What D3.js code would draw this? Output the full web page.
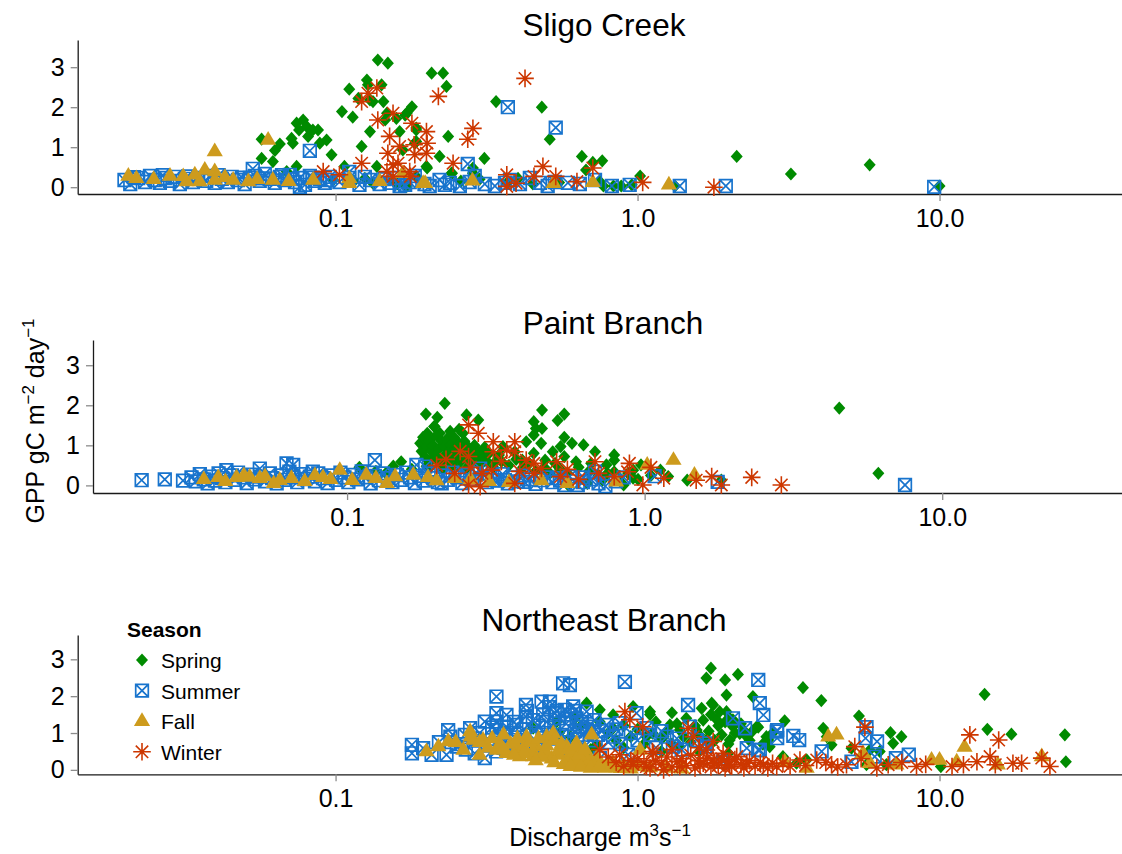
<!DOCTYPE html>
<html>
<head>
<meta charset="utf-8">
<script src="https://cdn.jsdelivr.net/npm/d3@7"></script>
<style>
  body { margin: 0; background: #fff; }
  svg { display: block; font-family: "Liberation Sans", Arial, sans-serif; }
</style>
</head>
<body>
<svg id="chart" width="1122" height="854"></svg>
<script>
// ---- data: [discharge (m3/s), GPP (gC m-2 day-1)] ----
const seasons = ["Spring", "Summer", "Fall", "Winter"];
const seasonColors = ["#008B00", "#1874CD", "#CD9B1D", "#CD3700"];
const sites = ["Sligo Creek", "Paint Branch", "Northeast Branch"];
const xTickValues = [0.1, 1, 10];
const xTickLabels = ["0.1", "1.0", "10.0"];
const yTickValues = [0, 1, 2, 3];

const sligoSpring = [
  [0.0569,1.20],[0.0569,0.72],[0.0620,0.64],[0.0630,0.92],[0.0654,1.08],[0.0715,1.22],[0.0722,1.10],
  [0.0743,1.60],[0.0757,1.43],[0.0781,1.68],[0.0802,1.52],[0.0811,1.27],[0.0841,1.43],[0.0875,1.43],
  [0.0887,1.10],[0.0934,1.18],[0.0970,0.81],[0.0743,0.52],[0.105,1.89],[0.111,2.45],[0.114,1.75],
  [0.119,2.22],[0.122,1.02],[0.127,2.68],[0.128,2.56],[0.130,2.18],[0.133,2.14],[0.138,3.18],
  [0.142,2.56],[0.144,2.14],[0.149,3.10],[0.148,1.85],[0.146,1.68],[0.130,1.39],[0.159,1.72],
  [0.163,1.39],[0.172,1.85],[0.179,2.01],[0.185,1.43],[0.183,1.10],[0.167,0.93],[0.208,2.85],
  [0.227,2.85],[0.233,2.52],[0.236,1.27],[0.221,0.77],[0.200,0.52],[0.242,0.35],[0.137,0.52],
  [0.107,0.52],[0.0982,0.18],[0.133,0.10],[0.155,0.18],[0.172,0.02],[0.185,0.27],[0.0689,0.39],
  [0.170,1.80],[0.185,1.48],[0.185,1.14],[0.340,2.14],[0.482,2.00],[0.512,1.20],[0.311,0.72],
  [0.201,0.48],[0.243,0.35],[0.285,0.48],[0.285,0.35],[0.369,0.10],[0.402,0.22],[0.654,0.77],
  [0.711,0.62],[0.764,0.66],[0.675,0.43],[0.750,0.14],[0.771,0.03],[0.832,0.03],[0.883,0.03],
  [0.957,0.06],[1.02,0.28],[1.33,0.03],[2.13,0.77],[3.22,0.33],[5.87,0.56],[10.0,0.03],
  [0.115,0.15],[0.125,0.22],[0.160,0.08],[0.195,0.12],[0.260,0.15],[0.300,0.20],[0.450,0.08],[0.550,0.12]
];
const sligoSummer = [
  [0.0200,0.18],[0.0209,0.08],[0.0222,0.23],[0.0234,0.13],[0.0243,0.28],[0.0252,0.18],[0.0262,0.11],
  [0.0272,0.23],[0.0283,0.16],[0.0294,0.26],[0.0305,0.08],[0.0317,0.21],[0.0337,0.13],[0.0351,0.23],
  [0.0373,0.16],[0.0383,0.28],[0.0398,0.11],[0.0420,0.21],[0.0440,0.13],[0.0453,0.26],[0.0475,0.18],
  [0.0500,0.08],[0.0520,0.23],[0.0540,0.28],[0.0561,0.16],[0.0583,0.33],[0.0605,0.21],[0.0629,0.11],
  [0.0654,0.26],[0.0680,0.18],[0.0706,0.31],[0.0734,0.13],[0.0762,0.23],[0.0792,0.06],[0.0822,0.28],
  [0.0854,0.16],[0.0887,0.21],[0.0921,0.11],[0.0957,0.26],[0.0532,0.46],[0.0762,0.01],[0.0822,0.91],
  [0.103,0.13],[0.111,0.23],[0.120,0.06],[0.130,0.18],[0.140,0.08],[0.151,0.11],[0.157,0.23],
  [0.163,0.03],[0.176,0.13],[0.183,0.28],[0.197,0.08],[0.205,0.03],[0.221,0.18],[0.230,0.06],
  [0.239,0.11],[0.258,0.03],[0.278,0.13],[0.289,0.28],[0.312,0.08],[0.337,0.03],[0.364,0.11],
  [0.378,0.18],[0.408,0.08],[0.440,0.23],[0.475,0.11],[0.504,0.03],[0.532,0.13],[0.588,0.11],
  [0.644,0.08],[0.723,0.18],[0.822,0.03],[0.942,0.06],[1.38,0.03],[1.96,0.03],[9.6,0.01],
  [0.372,2.00],[0.536,1.49],[0.274,0.58],[0.111,0.38],
  [0.0215,0.25],[0.0268,0.30],[0.0325,0.27],[0.0410,0.30],[0.0490,0.24],[0.0575,0.22],[0.0665,0.30],
  [0.0720,0.20],[0.0840,0.24],[0.0940,0.18],[0.125,0.26],[0.145,0.20],[0.170,0.06]
];
const sligoFall = [
  [0.0206,0.28],[0.0219,0.22],[0.0283,0.28],[0.0313,0.27],[0.0342,0.31],[0.0369,0.43],[0.0398,0.39],
  [0.0398,0.89],[0.0398,0.18],[0.0458,0.18],[0.0514,0.14],[0.0598,1.18],[0.0355,0.14],[0.0321,0.14],
  [0.111,0.22],[0.111,0.10],[0.167,0.35],[0.195,0.10],[0.0843,0.18],[0.0620,0.18],[0.284,0.16],
  [0.711,0.12],[0.527,0.10],[1.27,0.06],[0.198,0.10],[0.025,0.20],[0.043,0.25],[0.055,0.20],
  [0.070,0.15],[0.140,0.15]
];
const sligoWinter = [
  [0.0910,0.39],[0.103,0.31],[0.122,0.60],[0.122,2.14],[0.128,2.35],[0.137,2.48],[0.138,1.68],
  [0.151,1.27],[0.155,1.85],[0.149,0.85],[0.155,0.56],[0.148,0.39],[0.161,0.60],[0.163,1.02],
  [0.179,1.60],[0.176,0.39],[0.183,0.81],[0.200,0.85],[0.200,1.39],[0.219,2.27],[0.245,0.60],
  [0.155,0.27],[0.182,1.06],[0.201,1.10],[0.274,1.20],[0.285,1.47],[0.177,0.27],[0.369,0.31],
  [0.369,0.02],[0.396,0.10],[0.454,0.27],[0.486,0.52],[0.536,0.27],[0.630,0.14],[0.711,0.48],
  [1.04,0.12],[1.79,0.00],[0.424,2.72]
];

const paintSpring = [
  [0.213,2.05],[0.184,1.78],[0.201,1.70],[0.252,1.76],[0.276,1.63],[0.196,1.47],[0.238,1.40],
  [0.452,1.88],[0.537,1.78],[0.510,1.62],[0.424,1.59],[0.431,1.42],[0.452,1.42],[0.424,1.26],
  [0.537,1.20],[0.623,1.01],[0.681,0.84],[0.790,0.76],[0.790,0.63],[0.570,1.05],[0.522,0.97],
  [0.491,0.84],[0.400,1.09],[0.449,1.05],[0.366,0.84],[0.424,0.80],[0.334,0.97],[0.324,0.76],
  [0.315,0.59],[0.388,0.63],[0.463,0.63],[0.537,0.72],[0.588,0.59],[0.661,0.55],[0.744,0.51],
  [0.790,0.34],[0.915,0.38],[0.972,0.51],[1.13,0.38],[1.20,0.22],[1.39,0.13],[1.81,0.13],
  [4.51,1.93],[6.10,0.30],[0.850,0.01],[0.915,0.18],[0.722,0.13],[0.642,0.05],[0.553,0.01],
  [0.110,0.45],[0.143,0.48],[0.152,0.59],[0.185,0.48],[0.190,1.13],[0.205,1.30],[0.197,1.47],
  [0.176,1.05],[0.178,0.85],[0.180,1.20],[0.183,0.70],[0.185,0.95],[0.188,1.10],[0.190,0.60],
  [0.192,0.85],[0.195,1.00],[0.198,0.75],[0.200,1.25],[0.203,0.90],[0.205,0.55],[0.208,1.10],
  [0.210,0.70],[0.213,0.95],[0.216,1.15],[0.218,0.80],[0.220,0.60],[0.223,1.00],[0.226,0.85],
  [0.229,1.20],[0.232,0.70],[0.235,0.95],[0.238,1.05],[0.241,0.60],[0.244,0.85],[0.248,1.10],
  [0.252,0.75],[0.256,0.95],[0.260,0.55],[0.264,0.80],[0.268,1.00],[0.272,0.65],[0.276,0.85],
  [0.280,0.50],[0.285,0.75],[0.290,0.95],[0.295,0.60],[0.300,0.80],[0.190,0.45],[0.210,0.40],
  [0.230,0.45],[0.250,0.40],[0.186,1.30],[0.222,1.35],[0.245,1.30],[0.125,0.35],[0.135,0.30],
  [0.165,0.40],[0.310,0.45],[0.330,0.60],[0.350,0.50],[0.370,0.65],[0.390,0.45],[0.410,0.55],
  [0.430,0.35],[0.460,0.45],[0.480,0.30],[0.500,0.55],[0.520,0.40],[0.550,0.30],[0.600,0.45],
  [0.650,0.35],[0.700,0.25],[0.750,0.30],[0.820,0.20],[0.880,0.30],[0.950,0.15],[1.05,0.25]
];
const paintSummer = [
  [0.0204,0.13],[0.0244,0.15],[0.0281,0.12],[0.0626,0.55],[0.0659,0.51],[0.0509,0.42],[0.0393,0.38],
  [0.124,0.63],[0.171,0.51],[0.0767,0.34],[0.183,0.47],[0.208,0.05],[0.280,0.42],[0.311,0.13],
  [0.339,0.13],[0.394,0.09],[0.449,0.13],[0.506,0.18],[0.537,0.01],[0.596,0.01],[0.623,0.20],
  [0.681,0.34],[0.738,-0.02],[1.08,0.23],[1.76,0.09],[7.50,0.01],
  [0.030,0.20],[0.031,0.10],[0.032,0.28],[0.033,0.15],[0.034,0.05],[0.035,0.22],[0.036,0.12],
  [0.037,0.30],[0.038,0.18],[0.039,0.08],[0.041,0.25],[0.042,0.14],[0.043,0.32],[0.045,0.20],
  [0.046,0.06],[0.048,0.27],[0.049,0.15],[0.051,0.22],[0.053,0.10],[0.055,0.30],[0.056,0.18],
  [0.058,0.05],[0.060,0.25],[0.062,0.14],[0.064,0.34],[0.066,0.20],[0.068,0.08],[0.070,0.28],
  [0.072,0.16],[0.075,0.22],[0.078,0.10],[0.080,0.30],[0.083,0.18],[0.086,0.06],[0.089,0.25],
  [0.092,0.14],[0.095,0.32],[0.098,0.20],[0.101,0.08],[0.105,0.26],[0.108,0.15],[0.112,0.35],
  [0.116,0.20],[0.120,0.05],[0.124,0.24],[0.128,0.13],[0.132,0.30],[0.137,0.18],[0.142,0.08],
  [0.147,0.26],[0.152,0.14],[0.158,0.32],[0.163,0.20],[0.169,0.06],[0.175,0.24],[0.181,0.12],
  [0.188,0.30],[0.195,0.18],[0.202,0.08],[0.210,0.25],[0.218,0.14],[0.226,0.32],[0.235,0.20],
  [0.244,0.06],[0.253,0.26],[0.263,0.14],[0.273,0.30],[0.284,0.18],[0.295,0.08],[0.307,0.24],
  [0.320,0.12],[0.333,0.28],[0.347,0.05],[0.360,0.20],[0.375,0.10],[0.390,0.25],[0.410,0.15],
  [0.430,0.04],[0.470,0.20],[0.490,0.08],[0.520,0.12],[0.560,0.22],[0.620,0.08],[0.660,0.15],
  [0.700,0.05],[0.800,0.10],[0.850,0.20]
];
const paintFall = [
  [0.0369,0.20],[0.0425,0.20],[0.0471,0.21],[0.0509,0.18],[0.0594,0.13],[0.0830,0.20],[0.0945,0.38],
  [0.104,0.13],[0.116,0.26],[0.167,0.26],[0.187,0.20],[0.0567,0.05],[0.136,0.05],[1.02,0.51],
  [1.25,0.63],[1.47,0.26],[0.802,0.09],[0.033,0.15],[0.039,0.10],[0.045,0.25],[0.053,0.22],
  [0.065,0.18],[0.072,0.10],[0.078,0.25],[0.088,0.15],[0.125,0.18],[0.145,0.22],[0.200,0.12],
  [0.230,0.18],[0.260,0.15],[0.300,0.10],[0.350,0.08],[0.450,0.12],[0.550,0.05]
];
const paintWinter = [
  [0.256,1.51],[0.276,1.30],[0.310,1.09],[0.366,1.09],[0.344,0.88],[0.310,0.84],[0.366,0.84],
  [0.400,0.63],[0.424,0.55],[0.506,0.59],[0.681,0.59],[0.889,0.55],[0.876,0.34],[1.16,0.18],
  [0.986,0.01],[1.49,0.13],[1.68,0.22],[1.81,0.01],[2.29,0.20],[2.88,0.01],[0.256,0.72],
  [0.284,0.30],[0.256,0.01],[0.306,0.38],[0.280,-0.03],[0.366,0.05],[0.424,0.30],[0.522,0.22],
  [0.790,0.22],[0.200,0.50],[0.215,0.65],[0.230,0.30],[0.240,0.85],[0.260,0.45],[0.330,0.60],
  [0.380,0.35],[0.450,0.42],[0.550,0.40],[0.600,0.15],[0.700,0.30],[1.05,0.45]
];

const neSpring = [
  [1.75,2.76],[1.69,2.49],[1.95,2.44],[2.15,2.59],[1.97,2.03],[2.41,1.99],[1.63,1.67],[1.76,1.81],
  [1.97,1.58],[1.83,1.36],[2.07,1.36],[2.48,1.17],[2.18,0.99],[2.71,0.81],[1.10,1.58],[0.967,1.72],
  [0.830,1.49],[0.750,1.63],[0.678,1.81],[1.28,1.22],[1.38,1.08],[1.57,1.08],[1.69,0.81],[2.02,0.81],
  [2.30,0.90],[1.22,0.90],[1.07,0.90],[0.830,1.13],[0.451,1.13],[0.540,1.31],[0.732,0.68],[1.38,0.63],
  [2.74,0.63],[3.53,2.23],[4.06,1.88],[3.07,1.33],[2.51,1.16],[1.78,1.76],[1.87,1.58],[2.02,1.40],
  [2.07,1.17],[2.24,1.08],[2.67,0.90],[4.12,1.13],[4.23,0.90],[4.39,0.68],[5.41,1.46],[6.88,1.01],
  [7.02,0.72],[7.48,0.90],[5.11,0.59],[5.88,0.54],[6.34,0.50],[14.1,2.05],[14.4,1.10],[17.3,0.97],
  [26.0,0.95],[26.2,0.22],[10.1,0.09],[3.63,0.27],[5.73,0.14],[6.67,0.14],[3.03,0.36],[3.36,0.18],
  [0.80,1.00],[0.85,0.80],[0.90,1.20],[0.95,0.90],[1.00,1.10],[1.05,0.70],[1.12,1.00],[1.15,1.30],
  [1.20,0.85],[1.25,1.05],[1.30,0.70],[1.35,1.25],[1.42,0.90],[1.45,1.40],[1.50,0.75],[1.55,1.20],
  [1.60,0.95],[1.65,1.35],[1.72,1.05],[1.80,0.80],[1.85,1.20],[1.90,0.95],[1.95,1.30],[2.00,0.70],
  [2.10,1.00],[2.20,1.25],[2.35,0.80],[2.40,1.05],[2.60,0.70],[2.80,1.00],[0.70,1.00],[0.65,1.20],
  [0.60,0.90],[0.55,1.00],[0.50,0.80],[0.62,1.40],[0.75,1.30],[1.10,1.50],[1.30,1.55],[1.75,1.50],
  [0.90,0.60],[1.20,0.50],[1.60,0.50],[2.00,0.45],[0.70,0.55]
];
const neSummer = [
  [0.179,0.68],[0.179,0.45],[0.195,0.59],[0.208,0.41],[0.233,0.41],[0.236,1.08],[0.252,0.63],
  [0.268,0.95],[0.279,1.13],[0.289,0.45],[0.312,1.31],[0.312,0.32],[0.341,1.99],[0.341,1.54],
  [0.341,1.31],[0.341,1.08],[0.368,1.49],[0.368,1.17],[0.397,1.22],[0.397,0.81],[0.427,1.76],
  [0.427,1.44],[0.481,1.85],[0.513,1.85],[0.487,1.49],[0.532,1.54],[0.567,2.35],[0.597,2.30],
  [0.574,1.63],[0.612,1.72],[0.628,1.40],[0.678,1.58],[0.644,1.17],[0.713,1.17],[0.789,1.22],
  [0.830,0.90],[0.908,2.39],[0.992,1.54],[0.873,1.27],[0.628,0.45],[0.750,0.32],[0.931,0.41],
  [1.07,1.13],[1.25,0.90],[1.47,1.76],[1.49,1.17],[1.92,0.22],[2.30,0.59],[2.51,2.44],[2.54,1.81],
  [2.61,1.49],[2.54,0.54],[2.89,1.04],[1.31,0.63],[1.57,0.81],[1.69,0.63],[2.07,1.40],[2.27,1.13],
  [2.90,1.08],[2.90,0.86],[3.28,0.92],[3.43,0.81],[2.51,0.54],[1.67,0.72],[4.07,0.50],[5.73,1.16],
  [5.69,0.86],[6.21,0.77],[6.10,0.36],[5.11,0.22],[7.17,0.32],[7.91,0.41],
  [0.22,0.75],[0.24,0.90],[0.26,0.70],[0.27,0.55],[0.29,0.85],[0.30,1.00],[0.32,0.70],[0.33,1.15],
  [0.35,0.90],[0.36,0.60],[0.38,1.00],[0.39,1.30],[0.41,0.75],[0.42,1.10],[0.44,0.95],[0.45,1.35],
  [0.46,0.65],[0.47,1.20],[0.49,1.00],[0.50,1.30],[0.52,0.85],[0.53,1.15],[0.55,1.40],[0.56,0.95],
  [0.58,1.25],[0.59,0.75],[0.60,1.50],[0.62,1.05],[0.63,0.85],[0.65,1.30],[0.66,0.95],[0.68,1.10],
  [0.70,0.80],[0.72,1.35],[0.74,0.95],[0.76,1.05],[0.80,0.75],[0.85,1.10],[0.88,0.70],[0.95,1.00],
  [1.00,0.80],[1.10,0.95],[1.15,0.60],[1.20,1.05],[1.35,0.85],[1.40,0.55],[0.40,0.50],[0.48,0.55],
  [0.57,0.60],[0.54,1.60],[0.43,1.60],[0.51,1.70],[0.62,1.60],[0.34,0.50]
];
const neFall = [
  [0.219,0.63],[0.236,0.77],[0.279,1.04],[0.286,0.81],[0.308,0.81],[0.341,0.54],[0.429,0.90],
  [0.463,0.63],[0.500,0.90],[0.526,0.99],[0.582,0.63],[0.628,0.72],[0.661,0.45],[0.705,0.95],
  [0.368,0.45],[0.408,0.36],[0.451,0.36],[0.265,0.54],[1.02,0.54],[0.829,0.19],[0.732,0.32],
  [0.50,0.45],[0.55,0.40],[0.60,0.35],[0.65,0.30],[0.70,0.25],[0.75,0.22],[0.80,0.15],[0.90,0.12],
  [1.00,0.10],[1.10,0.06],[1.25,0.05],[1.40,0.03],[0.52,0.30],[0.58,0.25],[0.63,0.20],[0.68,0.15],
  [0.72,0.10],[0.78,0.05],[0.85,0.06],[0.95,0.03],[0.55,0.55],[0.62,0.50],[0.66,0.42],[0.45,0.50],
  [0.40,0.60],[0.35,0.70],[0.32,0.60],[0.30,0.40],[0.25,0.75],[0.20,0.50],
  [0.28,0.90],[0.30,0.75],[0.33,0.85],[0.36,0.95],[0.38,0.70],[0.40,0.85],[0.42,0.60],[0.44,0.75],
  [0.47,0.85],[0.50,0.65],[0.53,0.80],[0.56,0.70],[0.59,0.55],[0.62,0.65],[0.64,0.40],[0.67,0.55],
  [0.36,0.55],[0.42,0.45],[0.48,0.35],[0.53,0.20],[0.57,0.15],[0.60,0.10],[0.65,0.08],[0.70,0.05],
  [0.75,0.12],[0.82,0.10],[0.88,0.04],[0.46,0.25],[0.39,0.40],
  [4.56,0.95],[4.28,0.90],[5.58,0.45],[5.88,0.18],[9.41,0.27],[10.0,0.27],[11.4,0.22],[12.1,0.62],
  [15.6,0.14],[21.8,0.36],[3.63,0.05],[7.20,0.14],[3.07,0.22]
];
const neWinter = [
  [0.908,1.58],[0.943,1.36],[1.04,1.17],[0.873,0.41],[1.13,0.45],[0.967,0.14],[1.07,0.09],[1.22,0.00],
  [1.38,0.09],[1.47,1.13],[1.53,0.90],[1.78,0.77],[1.61,0.14],[1.78,0.27],[2.02,0.14],[2.30,0.18],
  [2.61,0.14],[2.89,0.09],[1.69,0.54],[1.92,0.45],[2.13,0.36],[12.6,0.95],[15.7,0.81],[13.3,0.22],
  [14.7,0.36],[15.3,0.14],[17.5,0.18],[18.7,0.18],[21.8,0.32],[23.2,0.09],[11.0,0.09],[12.0,0.14],
  [8.39,0.09],[6.76,0.14],[5.24,0.63],[5.66,1.16],[4.92,0.14],[4.39,0.14],[3.92,0.27],[3.45,0.27],
  [3.03,0.18],
  [1.00,0.30],[1.05,0.20],[1.10,0.05],[1.15,0.25],[1.20,0.15],[1.25,0.35],[1.30,0.08],[1.35,0.22],
  [1.40,0.30],[1.45,0.12],[1.50,0.40],[1.55,0.05],[1.60,0.25],[1.65,0.18],[1.70,0.32],[1.75,0.08],
  [1.80,0.20],[1.85,0.12],[1.90,0.30],[1.95,0.05],[2.00,0.22],[2.05,0.10],[2.10,0.28],[2.20,0.15],
  [2.25,0.05],[2.35,0.25],[2.45,0.10],[2.55,0.20],[2.70,0.05],[2.80,0.18],[3.20,0.10],[3.60,0.12],
  [0.90,0.10],[0.95,0.25],[0.80,0.35],[0.75,0.55],[0.85,0.20],[1.12,0.50],[1.30,0.55],[1.60,0.60],
  [4.20,0.20],[4.60,0.08],[5.50,0.30],[6.20,0.05],[7.50,0.20],[9.00,0.15]
];

const siteSeries = [
  [sligoSpring, sligoSummer, sligoFall, sligoWinter],
  [paintSpring, paintSummer, paintFall, paintWinter],
  [neSpring, neSummer, neFall, neWinter]
];

// ---- layout ----
const W = 1122;
const xDomain = [0.0140, 40.2];
const panels = [
  { left: 77.7, right: W, top: 40,  bottom: 194,   yDomain: [-0.17, 3.68], titleX: 604, titleY: 36 },
  { left: 93,   right: W, top: 340, bottom: 493,   yDomain: [-0.19, 3.63], titleX: 613, titleY: 334 },
  { left: 77.7, right: W, top: 635, bottom: 774.3, yDomain: [-0.12, 3.66], titleX: 604, titleY: 631 }
];

// ---- marker shapes ----
const markerPaths = [
  "M0,-6.6L6,0L0,6.6L-6,0Z",                                       // diamond
  "M-6.3,-6.3H6.3V6.3H-6.3Z M-6.3,-6.3L6.3,6.3 M6.3,-6.3L-6.3,6.3", // square with cross
  "M0,-9L8.1,4.7L-8.1,4.7Z",                                       // triangle
  "M-8.8,0H8.8 M0,-8.8V8.8 M-6.2,-6.2L6.2,6.2 M6.2,-6.2L-6.2,6.2"  // asterisk
];
function styleMarker(sel, k) {
  sel.attr("d", markerPaths[k]);
  if (k === 0 || k === 2) {
    sel.attr("fill", seasonColors[k]).attr("stroke", "none");
  } else {
    sel.attr("fill", "none").attr("stroke", seasonColors[k])
       .attr("stroke-width", k === 1 ? 1.7 : 1.6);
  }
}

const svg = d3.select("#chart");
const font = '"Liberation Sans", Arial, sans-serif';

panels.forEach((p, i) => {
  const x = d3.scaleLog().domain(xDomain).range([p.left, p.right]);
  const y = d3.scaleLinear().domain(p.yDomain).range([p.bottom, p.top]);
  const g = svg.append("g");

  // axes
  const xAxis = g.append("g").attr("transform", `translate(0,${p.bottom})`)
    .call(d3.axisBottom(x).tickValues(xTickValues)
      .tickFormat((d, j) => xTickLabels[j]).tickSize(7).tickSizeOuter(0).tickPadding(8));
  const yAxis = g.append("g").attr("transform", `translate(${p.left},0)`)
    .call(d3.axisLeft(y).tickValues(yTickValues).tickFormat(d3.format("d"))
      .tickSize(7).tickSizeOuter(0).tickPadding(6));
  [xAxis, yAxis].forEach(a => {
    a.select(".domain").attr("stroke", "#1a1a1a").attr("stroke-width", 1.3);
    a.selectAll(".tick line").attr("stroke", "#8c8c8c").attr("stroke-width", 1.3);
    a.selectAll(".tick text").attr("fill", "#000").attr("font-size", 25).attr("font-family", font);
  });

  // points, one layer per season
  siteSeries[i].forEach((series, k) => {
    g.append("g").selectAll("path").data(series).join("path")
      .attr("transform", d => `translate(${x(d[0])},${y(d[1])})`)
      .call(styleMarker, k);
  });

  // panel title
  svg.append("text").attr("x", p.titleX).attr("y", p.titleY)
    .attr("text-anchor", "middle").attr("font-size", 31.5).attr("font-family", font)
    .text(sites[i]);
});

// axis titles
const xt = svg.append("text").attr("x", 600).attr("y", 846)
  .attr("text-anchor", "middle").attr("font-size", 25).attr("font-family", font);
xt.append("tspan").text("Discharge m");
xt.append("tspan").attr("font-size", 17).attr("dy", -10).text("3");
xt.append("tspan").attr("dy", 10).text("s");
xt.append("tspan").attr("font-size", 17).attr("dy", -10).text("\u22121");

const yt = svg.append("text").attr("transform", "translate(44,421) rotate(-90)")
  .attr("text-anchor", "middle").attr("font-size", 25).attr("font-family", font);
yt.append("tspan").text("GPP gC m");
yt.append("tspan").attr("font-size", 17).attr("dy", -10).text("\u22122");
yt.append("tspan").attr("dy", 10).text(" day");
yt.append("tspan").attr("font-size", 17).attr("dy", -10).text("\u22121");

// legend
const legend = svg.append("g");
legend.append("text").attr("x", 127).attr("y", 637).attr("font-size", 21)
  .attr("font-weight", "bold").attr("font-family", font).text("Season");
seasons.forEach((s, k) => {
  const by = 668 + k * 30.6;
  legend.append("path").attr("transform", `translate(142,${by - 8})`).call(styleMarker, k);
  legend.append("text").attr("x", 161).attr("y", by).attr("font-size", 21)
    .attr("font-family", font).text(s);
});
</script>
</body>
</html>
